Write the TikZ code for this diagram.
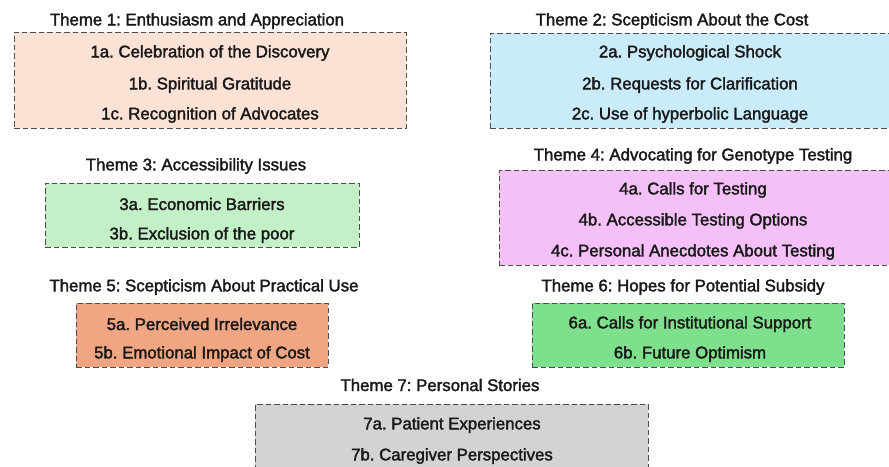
\documentclass[tikz,border=0pt]{standalone}
\usepackage{fontspec}
\setmainfont{Liberation Sans}[FakeBold=2]
\begin{document}
\frenchspacing
\begin{tikzpicture}[x=1pt,y=-1pt,
  themebox/.style={draw=black!70, dash pattern=on 5.5pt off 3pt, line width=0.9pt, anchor=north west, inner sep=0pt},
  themetitle/.style={font=\fontsize{16.8}{20}\selectfont, text=black!90},
  item/.style={font=\fontsize{16.8}{20}\selectfont, text=black!90}]
\useasboundingbox[fill=white] (0,0) rectangle (889,466);
\definecolor{peach}{RGB}{251,226,213}
\definecolor{skyb}{RGB}{201,235,250}
\definecolor{mint}{RGB}{196,240,200}
\definecolor{orchid}{RGB}{245,192,248}
\definecolor{salmon}{RGB}{240,166,130}
\definecolor{leaf}{RGB}{126,224,140}
\definecolor{ash}{RGB}{211,211,211}

% Theme 1
\node[themebox, fill=peach, minimum width=392, minimum height=96] (b1) at (14,32) {};
\node[themetitle] (t1) at (197,21) {Theme 1: Enthusiasm and Appreciation};
\node[item] (i1a) at (210,53) {1a. Celebration of the Discovery};
\node[item] (i1b) at (210,85) {1b. Spiritual Gratitude};
\node[item] (i1c) at (210,115) {1c. Recognition of Advocates};

% Theme 2
\node[themebox, fill=skyb, minimum width=405, minimum height=95] (b2) at (490,33) {};
\node[themetitle] (t2) at (672,21) {Theme 2: Scepticism About the Cost};
\node[item] (i2a) at (690,53) {2a. Psychological Shock};
\node[item] (i2b) at (690,85) {2b. Requests for Clarification};
\node[item] (i2c) at (690,115) {2c. Use of hyperbolic Language};

% Theme 3
\node[themebox, fill=mint, minimum width=314, minimum height=64] (b3) at (45,183) {};
\node[themetitle] (t3) at (196,166) {Theme 3: Accessibility Issues};
\node[item] (i3a) at (202,204) {3a. Economic Barriers};
\node[item] (i3b) at (202,235) {3b. Exclusion of the poor};

% Theme 4
\node[themebox, fill=orchid, minimum width=396, minimum height=95] (b4) at (499,170) {};
\node[themetitle] (t4) at (693,156) {Theme 4: Advocating for Genotype Testing};
\node[item] (i4a) at (693,190) {4a. Calls for Testing};
\node[item] (i4b) at (693,221) {4b. Accessible Testing Options};
\node[item] (i4c) at (693,252) {4c. Personal Anecdotes About Testing};

% Theme 5
\node[themebox, fill=salmon, minimum width=252, minimum height=64] (b5) at (76,303) {};
\node[themetitle] (t5) at (204,287) {Theme 5: Scepticism About Practical Use};
\node[item] (i5a) at (202,324) {5a. Perceived Irrelevance};
\node[item] (i5b) at (202,354) {5b. Emotional Impact of Cost};

% Theme 6
\node[themebox, fill=leaf, minimum width=312, minimum height=64] (b6) at (532,303) {};
\node[themetitle] (t6) at (683,287) {Theme 6: Hopes for Potential Subsidy};
\node[item] (i6a) at (690,324) {6a. Calls for Institutional Support};
\node[item] (i6b) at (690,354) {6b. Future Optimism};

% Theme 7
\node[themebox, fill=ash, minimum width=393, minimum height=80] (b7) at (255,404) {};
\node[themetitle] (t7) at (440,385) {Theme 7: Personal Stories};
\node[item] (i7a) at (452,425) {7a. Patient Experiences};
\node[item] (i7b) at (452,456) {7b. Caregiver Perspectives};
\end{tikzpicture}
\end{document}
